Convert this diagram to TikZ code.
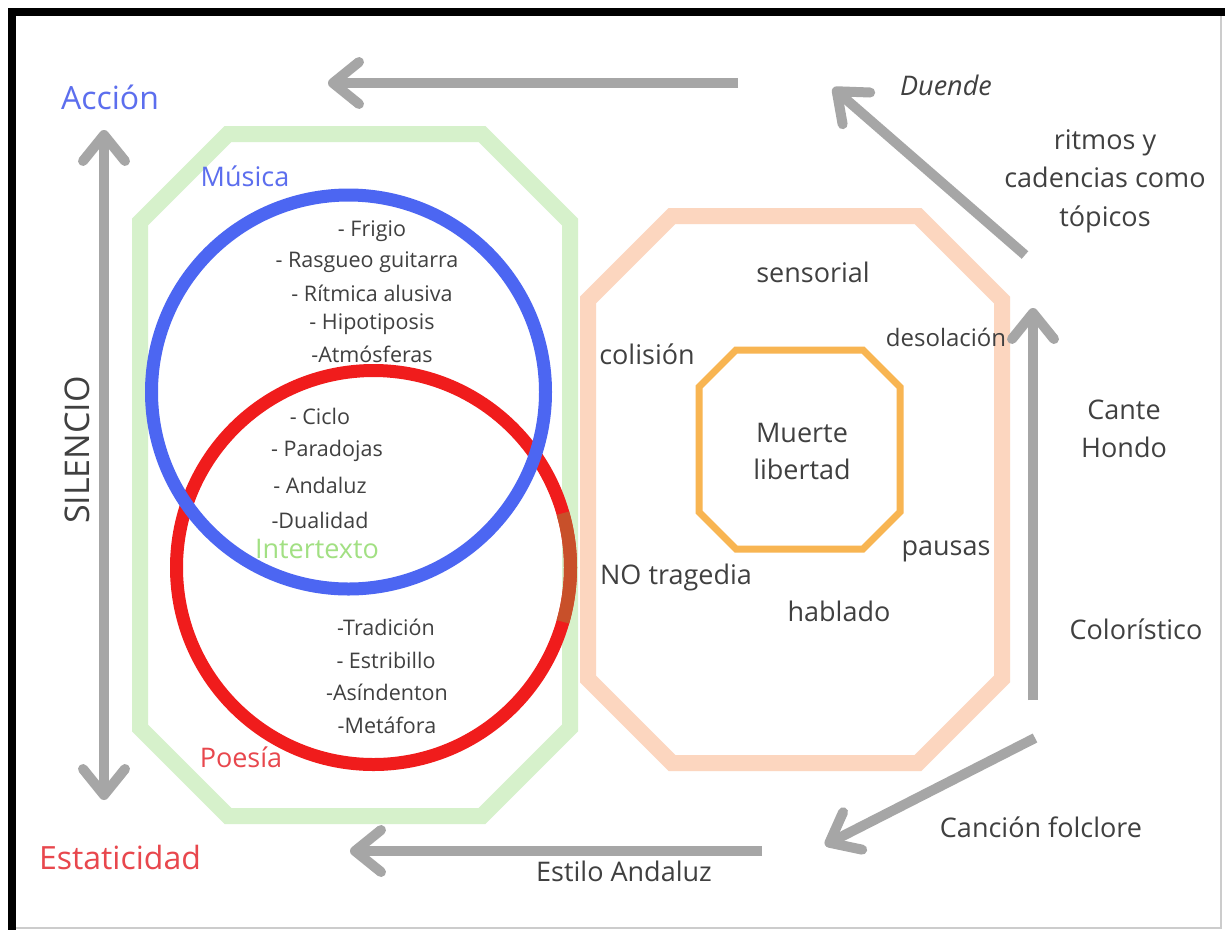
\documentclass[tikz,border=0pt]{standalone}
\usepackage{fontspec}
\setmainfont{Open Sans}
\usetikzlibrary{arrows.meta}

\definecolor{arrowgray}{HTML}{A6A6A6}
\definecolor{textgray}{HTML}{404040}
\definecolor{ringblue}{HTML}{4C66F2}
\definecolor{ringred}{HTML}{F01C1C}
\definecolor{ringbrown}{HTML}{C8502A}
\definecolor{octgreen}{HTML}{D6F1CB}
\definecolor{octpeach}{HTML}{FCD6BF}
\definecolor{octorange}{HTML}{F8B552}
\definecolor{labelblue}{HTML}{5C6EEE}
\definecolor{labelred}{HTML}{E8474D}
\definecolor{labelgreen}{HTML}{A2E083}

\begin{document}
\begin{tikzpicture}[x=1pt,y=-1pt,
    txt/.style={text=textgray, font=\fontsize{21.5}{30}\selectfont, inner sep=0pt},
    mid/.style={text=textgray, font=\fontsize{27}{38.5}\selectfont, inner sep=0pt, align=center},
    big/.style={font=\fontsize{32}{36}\selectfont, inner sep=0pt},
    garrow/.style={draw=arrowgray, line width=10pt, -{Straight Barb[length=26pt,width=42pt,round]}}]

    % Page and frame
    \useasboundingbox (0,0) rectangle (1225,930);
    \fill[white] (0,0) rectangle (1225,930);
    \fill[black] (8,8) rectangle (1225,16);
    \fill[black] (8,8) rectangle (16,930);
    \draw[black!20, line width=1.5pt] (1221,16) -- (1221,928) -- (16,928);

    % Draw the two octagons
    \draw[octgreen, line width=16pt] (228,134) -- (482,134) -- (570,222) -- (570,728)
        -- (482,816) -- (228,816) -- (140,728) -- (140,222) -- cycle;
    \draw[octpeach, line width=16pt] (672,216) -- (918,216) -- (1002,300) -- (1002,679)
        -- (918,763) -- (672,763) -- (588,679) -- (588,300) -- cycle;
    \draw[octorange, line width=7pt] (736,350) -- (863,350) -- (900,387) -- (900,512)
        -- (863,549) -- (736,549) -- (699,512) -- (699,387) -- cycle;

    % Draw the circles
    \coordinate (poesiac) at (373.5,567.5);
    \coordinate (musicac) at (348.5,392);
    \draw[ringred, line width=13pt] (poesiac) circle[radius=197];
    \draw[ringbrown, line width=13pt] (poesiac) ++(-16:197) arc[start angle=-16, end angle=16, radius=197];
    \draw[ringblue, line width=13pt] (musicac) circle[radius=197];

    % Arrow end points
    \coordinate (topR) at (738,83);
    \coordinate (topL) at (328,83);
    \coordinate (leftT) at (104,130);
    \coordinate (leftB) at (104,800);
    \coordinate (botR) at (762,851);
    \coordinate (botL) at (350,851);
    \coordinate (diagBs) at (1035,738);
    \coordinate (diagBe) at (825,845);
    \coordinate (rightB) at (1033,700);
    \coordinate (rightT) at (1033,308);
    \coordinate (diagTs) at (1025,255);
    \coordinate (diagTe) at (833,88);

    % Draw the arrows
    \draw[garrow] (topR) -- (topL);
    \draw[garrow, {Straight Barb[length=26pt,width=42pt,round]}-{Straight Barb[length=26pt,width=42pt,round]}] (leftT) -- (leftB);
    \draw[garrow] (botR) -- (botL);
    \draw[garrow] (diagBs) -- (diagBe);
    \draw[garrow] (rightB) -- (rightT);
    \draw[garrow] (diagTs) -- (diagTe);

    % Labels of the axes
    \node[big, text=labelblue] (accion) at (110,97) {Acción};
    \node[big, text=labelred] (estaticidad) at (120,857) {Estaticidad};
    \node[big, text=textgray, font=\fontsize{34}{36}\selectfont, rotate=90] (silencio) at (77,450) {SILENCIO};

    % Labels of the circles
    \node[big, text=labelblue, font=\fontsize{27}{30}\selectfont] (musica) at (245,176) {Música};
    \node[big, text=labelgreen, font=\fontsize{27}{30}\selectfont] (intertexto) at (317,549) {Intertexto};
    \node[big, text=labelred, font=\fontsize{27}{30}\selectfont] (poesia) at (241,757) {Poesía};

    % Music list
    \node[txt] (frigio) at (372,231) {- Frigio};
    \node[txt] (rasgueo) at (367,262) {- Rasgueo guitarra};
    \node[txt] (ritmica) at (372,293) {- Rítmica alusiva};
    \node[txt] (hipotiposis) at (372,324) {- Hipotiposis};
    \node[txt] (atmosferas) at (372,354) {-Atmósferas};

    % Shared list
    \node[txt] (ciclo) at (320,416) {- Ciclo};
    \node[txt] (paradojas) at (327,451) {- Paradojas};
    \node[txt] (andaluz) at (320,485) {- Andaluz};
    \node[txt] (dualidad) at (320,520) {-Dualidad};

    % Poetry list
    \node[txt] (tradicion) at (386,627) {-Tradición};
    \node[txt] (estribillo) at (386,660) {- Estribillo};
    \node[txt] (asindeton) at (387,692) {-Asíndenton};
    \node[txt] (metafora) at (387,725) {-Metáfora};

    % Words in the peach octagon
    \node[mid] (sensorial) at (813,272) {sensorial};
    \node[txt, font=\fontsize{24}{30}\selectfont] (desolacion) at (946,337) {desolación};
    \node[mid] (colision) at (647,354) {colisión};
    \node[mid, font=\fontsize{27}{37}\selectfont] (muerte) at (802,451) {Muerte\\libertad};
    \node[mid] (pausas) at (946,551) {pausas};
    \node[mid] (notragedia) at (676,577) {NO tragedia};
    \node[mid] (hablado) at (839,611) {hablado};

    % Words along the arrows
    \node[txt, font=\itshape\fontsize{27}{30}\selectfont] (duende) at (946,85) {Duende};
    \node[mid] (ritmos) at (1105,181) {ritmos y\\cadencias como\\tópicos};
    \node[mid] (cante) at (1124,429) {Cante\\Hondo};
    \node[mid] (coloristico) at (1136,629) {Colorístico};
    \node[mid] (cancion) at (1041,827) {Canción folclore};
    \node[mid] (estilo) at (624,871) {Estilo Andaluz};
\end{tikzpicture}
\end{document}
